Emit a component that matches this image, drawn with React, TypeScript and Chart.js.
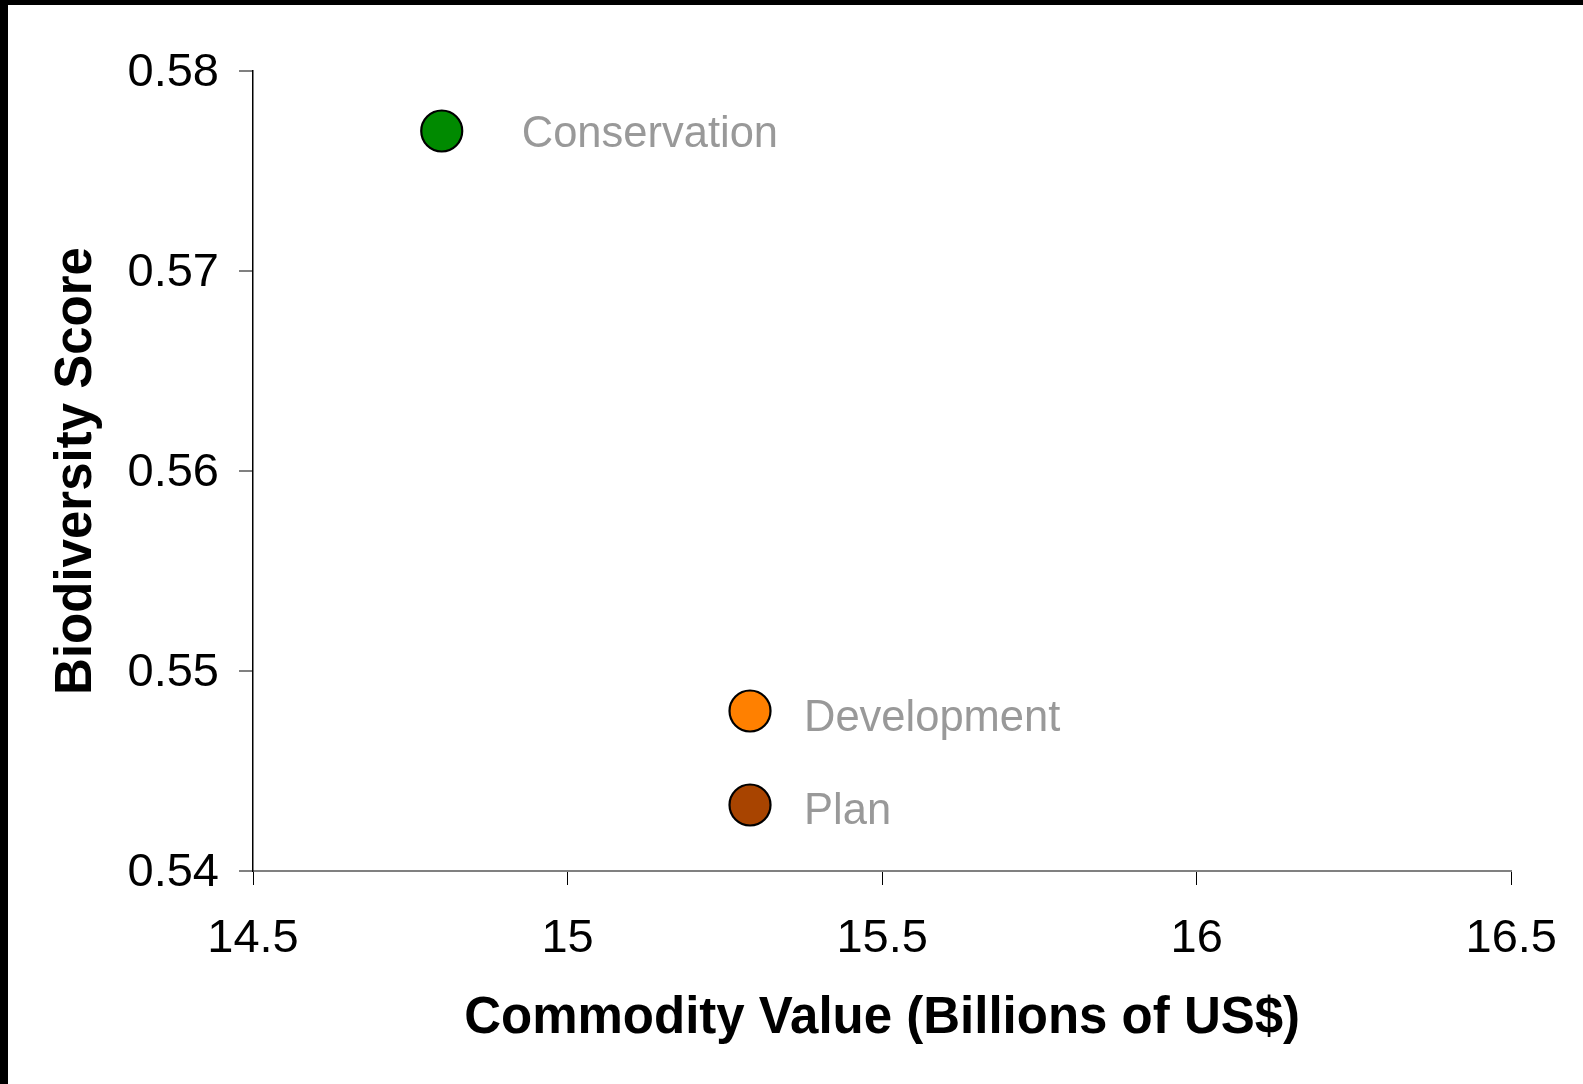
import React, { useEffect, useRef } from "react";
import { Chart, registerables } from "chart.js";

Chart.register(...registerables);

// ---- Data ----
const scenarioNames: string[] = ["Conservation", "Development", "Plan"];
const commodityValues: number[] = [14.8, 15.29, 15.29];
const biodiversityScores: number[] = [0.577, 0.548, 0.5433];

const xTickValues: number[] = [14.5, 15, 15.5, 16, 16.5];
const yTickValues: number[] = [0.54, 0.55, 0.56, 0.57, 0.58];

// ---- Styles ----
const pointColors = ["#008a00", "#ff8000", "#a84400"];
const labelOffsetX = [80, 54, 54];
const labelOffsetY = [16, 20, 18.5];

const W = 1583;
const H = 1084;

const pointLabelsPlugin = {
  id: "pointLabels",
  afterDatasetsDraw(chart: any) {
    const ctx = chart.ctx;
    ctx.save();
    ctx.font = "43.5px 'Liberation Sans', Arial, sans-serif";
    ctx.fillStyle = "#999999";
    ctx.textAlign = "left";
    ctx.textBaseline = "alphabetic";
    chart.data.datasets.forEach((ds: any, di: number) => {
      const meta = chart.getDatasetMeta(di);
      meta.data.forEach((pt: any) => {
        ctx.fillText(ds.label, pt.x + labelOffsetX[di], pt.y + labelOffsetY[di]);
      });
    });
    ctx.restore();
  },
};

export default function App() {
  const canvasRef = useRef<HTMLCanvasElement | null>(null);

  useEffect(() => {
    if (!canvasRef.current) return;
    const datasets = scenarioNames.map((name, i) => ({
      label: name,
      data: [{ x: commodityValues[i], y: biodiversityScores[i] }],
      backgroundColor: pointColors[i],
      borderColor: "#000000",
      borderWidth: 2.2,
      pointRadius: 20.5,
      pointHoverRadius: 20.5,
    }));

    const chart = new Chart(canvasRef.current, {
      type: "scatter",
      data: { datasets },
      plugins: [pointLabelsPlugin],
      options: {
        animation: false,
        responsive: false,
        devicePixelRatio: 1,
        layout: { padding: { left: 46, right: 68, top: 71, bottom: 34 } },
        plugins: {
          legend: { display: false },
          tooltip: { enabled: false },
        },
        scales: {
          x: {
            type: "linear",
            min: 14.5,
            max: 16.5,
            afterFit: (scale: any) => {
              scale.height = 179;
            },
            afterBuildTicks: (scale: any) => {
              scale.ticks = xTickValues.map((v) => ({ value: v }));
            },
            ticks: {
              padding: 26,
              color: "#000000",
              font: { family: "'Liberation Sans', Arial, sans-serif", size: 47 },
              callback: (v: any) => String(v),
              maxRotation: 0,
            },
            grid: {
              drawOnChartArea: false,
              drawTicks: true,
              tickLength: 14,
              color: "#000000",
              lineWidth: 1,
            },
            border: { display: true, color: "#808080", width: 2 },
            title: {
              display: true,
              text: "Commodity Value (Billions of US$)",
              color: "#000000",
              padding: 0,
              font: { family: "'Liberation Sans', Arial, sans-serif", size: 51, weight: "bold" },
            },
          },
          y: {
            type: "linear",
            min: 0.54,
            max: 0.58,
            afterFit: (scale: any) => {
              scale.width = 207;
            },
            afterBuildTicks: (scale: any) => {
              scale.ticks = yTickValues.map((v) => ({ value: v }));
            },
            ticks: {
              padding: 20,
              labelOffset: 2,
              color: "#000000",
              font: { family: "'Liberation Sans', Arial, sans-serif", size: 47 },
              callback: (v: any) => Number(v).toFixed(2),
            },
            grid: {
              drawOnChartArea: false,
              drawTicks: true,
              tickLength: 14,
              color: "#808080",
              lineWidth: 2,
            },
            border: { display: true, color: "#000000", width: 1.5 },
            title: {
              display: true,
              text: "Biodiversity Score",
              color: "#000000",
              padding: 0,
              font: { family: "'Liberation Sans', Arial, sans-serif", size: 51, weight: "bold" },
            },
          },
        },
      } as any,
    });
    return () => chart.destroy();
  }, []);

  return (
    <div style={{ position: "absolute", left: 0, top: 0, width: W, height: H, background: "#000000", overflow: "hidden" }}>
      <div style={{ position: "absolute", left: 8, top: 5, width: W - 8, height: H - 5, background: "#ffffff" }} />
      <canvas
        ref={canvasRef}
        width={W}
        height={H}
        style={{ position: "absolute", left: 0, top: 0, width: W, height: H }}
      />
    </div>
  );
}
